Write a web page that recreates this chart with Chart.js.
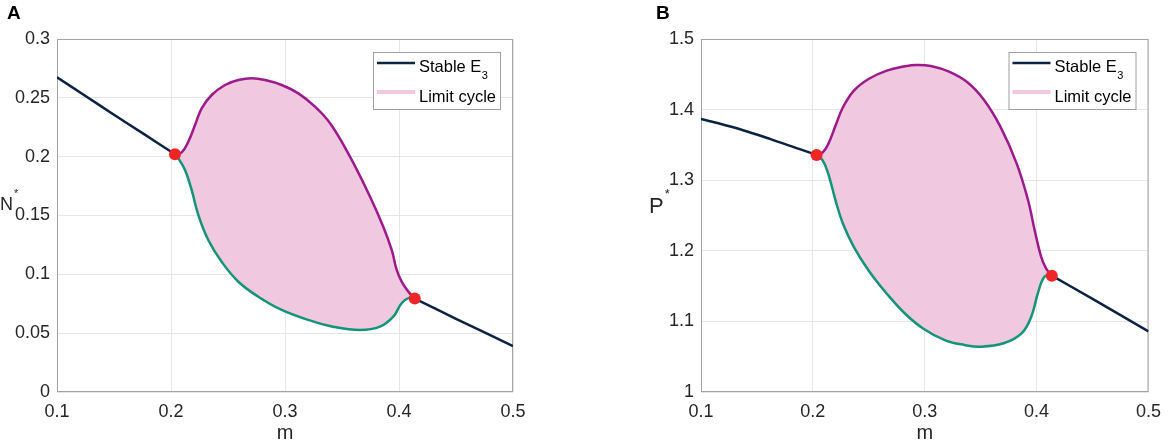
<!DOCTYPE html>
<html>
<head>
<meta charset="utf-8">
<script src="https://cdn.jsdelivr.net/npm/chart.js@4.4.1/dist/chart.umd.min.js"></script>
<style>
  html, body { margin: 0; padding: 0; background: #fff; }
  #wrap { position: relative; width: 1170px; height: 445px; }
  canvas { position: absolute; top: 0; }
  #chartA { left: 0; }
  #chartB { left: 585px; }
</style>
</head>
<body>
<div id="wrap">
  <canvas id="chartA" width="585" height="445"></canvas>
  <canvas id="chartB" width="585" height="445"></canvas>
</div>
<script>
// tick values, both panels share the m axis
var mTicks = [0.1, 0.2, 0.3, 0.4, 0.5];
var mTickLabels = ['0.1', '0.2', '0.3', '0.4', '0.5'];
var nTicks = [0, 0.05, 0.1, 0.15, 0.2, 0.25, 0.3];
var nTickLabels = ['0', '0.05', '0.1', '0.15', '0.2', '0.25', '0.3'];
var pTicks = [1, 1.1, 1.2, 1.3, 1.4, 1.5];
var pTickLabels = ['1', '1.1', '1.2', '1.3', '1.4', '1.5'];

// panel A : N* against m  ([m, N])
var stableLoA = [[0.1, 0.2674], [0.125, 0.2516], [0.15, 0.2356], [0.175, 0.2200], [0.2035, 0.2020]];
var stableHiA = [[0.4138, 0.0794], [0.45, 0.0622], [0.5, 0.0390]];
var cycleMaxA = [[0.2035, 0.2020], [0.2094, 0.2037], [0.2152, 0.2127], [0.2211, 0.2269], [0.2269, 0.2411],
  [0.2357, 0.2524], [0.2474, 0.2609], [0.2591, 0.2651], [0.2708, 0.2666], [0.2825, 0.2651], [0.2971, 0.2609],
  [0.3117, 0.2538], [0.3263, 0.2425], [0.3400, 0.2278], [0.3570, 0.2000], [0.3746, 0.1660], [0.3862, 0.1405],
  [0.3936, 0.1207], [0.3980, 0.1037], [0.4023, 0.0938], [0.4082, 0.0853], [0.4138, 0.0794]];
var cycleMinA = [[0.2035, 0.2020], [0.2064, 0.1986], [0.2123, 0.1887], [0.2181, 0.1717], [0.2240, 0.1504],
  [0.2327, 0.1292], [0.2444, 0.1107], [0.2591, 0.0937], [0.2766, 0.0810], [0.2971, 0.0697], [0.3205, 0.0612],
  [0.3420, 0.0555], [0.3658, 0.0527], [0.3833, 0.0555], [0.3950, 0.0640], [0.4023, 0.0754], [0.4096, 0.0804],
  [0.4138, 0.0794]];
var hopfA = [[0.2035, 0.2020], [0.4138, 0.0794]];

// panel B : P* against m
var stableLoB = [[0.1, 1.3868], [0.1288, 1.3750], [0.1615, 1.3585], [0.1876, 1.3443], [0.2033, 1.3358]];
var stableHiB = [[0.4136, 1.1648], [0.45, 1.1318], [0.5, 1.0858]];
var cycleMaxB = [[0.2033, 1.3358], [0.2089, 1.3396], [0.2138, 1.3514], [0.2203, 1.3774], [0.2269, 1.4033],
  [0.2367, 1.4269], [0.2498, 1.4434], [0.2661, 1.4552], [0.2825, 1.4613], [0.2923, 1.4632], [0.3054, 1.4618],
  [0.3217, 1.4538], [0.3381, 1.4387], [0.3530, 1.4136], [0.3676, 1.3758], [0.3821, 1.3239], [0.3923, 1.2720],
  [0.3982, 1.2295], [0.4040, 1.1917], [0.4084, 1.1752], [0.4136, 1.1648]];
var cycleMinB = [[0.2033, 1.3358], [0.2089, 1.3278], [0.2138, 1.3090], [0.2203, 1.2712], [0.2269, 1.2382],
  [0.2367, 1.2052], [0.2498, 1.1722], [0.2661, 1.1392], [0.2825, 1.1108], [0.2988, 1.0896], [0.3184, 1.0731],
  [0.3355, 1.0666], [0.3501, 1.0642], [0.3705, 1.0690], [0.3865, 1.0831], [0.3952, 1.1067], [0.4011, 1.1398],
  [0.4070, 1.1633], [0.4136, 1.1648]];
var hopfB = [[0.2033, 1.3358], [0.4136, 1.1648]];

var NAVY = '#0b2243', PURPLE = '#9c1a8c', TEAL = '#129479', PINK = '#f0c9e0', RED = '#f02525';
var FONT = '"Liberation Sans", Arial, sans-serif';

function pts(arr) {
  return arr.map(function(p) { return {x: p[0], y: p[1]}; });
}

// box round the axes, panel letter, upright y label, legend
var deco = {
  id: 'deco',
  beforeDatasetsDraw: function(chart) {
    var ca = chart.chartArea, ctx = chart.ctx;
    ctx.save();
    ctx.strokeStyle = '#a3a3a3';
    ctx.lineWidth = 1;
    ctx.strokeRect(ca.left + 0.5, ca.top + 0.5, ca.right - ca.left - 1, ca.bottom - ca.top - 1);
    ctx.restore();
  },
  afterDraw: function(chart, args, o) {
    var ca = chart.chartArea, ctx = chart.ctx;
    ctx.save();
    ctx.textBaseline = 'alphabetic';
    ctx.textAlign = 'left';
    ctx.fillStyle = '#000';
    ctx.font = 'bold 19px ' + FONT;
    ctx.fillText(o.letter, o.letterX, 19);

    ctx.fillStyle = '#262626';
    ctx.font = o.ylSize + 'px ' + FONT;
    ctx.fillText(o.yLabel, o.ylX, o.ylY);
    var w = ctx.measureText(o.yLabel).width;
    ctx.font = o.starSize + 'px ' + FONT;
    ctx.fillText('*', o.ylX + w + 1, o.ylY - o.starDy);

    var bw = 127, bh = 57;
    var bx = ca.right - 13 - bw, by = ca.top + 13;
    ctx.fillStyle = '#fff';
    ctx.fillRect(bx, by, bw, bh);
    ctx.strokeStyle = '#a0a0a0';
    ctx.lineWidth = 1;
    ctx.strokeRect(bx + 0.5, by + 0.5, bw, bh);

    ctx.lineCap = 'butt';
    ctx.strokeStyle = NAVY;
    ctx.lineWidth = 2.5;
    ctx.beginPath(); ctx.moveTo(bx + 4, by + 11); ctx.lineTo(bx + 42, by + 11); ctx.stroke();
    ctx.strokeStyle = PINK;
    ctx.lineWidth = 4;
    ctx.beginPath(); ctx.moveTo(bx + 4, by + 40); ctx.lineTo(bx + 42, by + 40); ctx.stroke();

    ctx.fillStyle = '#000';
    ctx.font = '16.5px ' + FONT;
    ctx.fillText('Stable E', bx + 46, by + 20);
    var sw = ctx.measureText('Stable E').width;
    ctx.font = '11px ' + FONT;
    ctx.fillText('3', bx + 46 + sw + 0.5, by + 27);
    ctx.font = '16.5px ' + FONT;
    ctx.fillText('Limit cycle', bx + 46, by + 50);
    ctx.restore();
  }
};

function makeChart(id, d) {
  var tickFont = {family: FONT, size: 18};
  return new Chart(document.getElementById(id), {
    type: 'scatter',
    data: {
      datasets: [
        {data: pts(d.hopf), showLine: false, pointRadius: 6, pointBackgroundColor: RED,
         pointBorderColor: RED, pointBorderWidth: 0, pointHoverRadius: 6},
        {data: pts(d.lo), showLine: true, borderColor: NAVY, borderWidth: 2.5, pointRadius: 0, tension: 0.3},
        {data: pts(d.hi), showLine: true, borderColor: NAVY, borderWidth: 2.5, pointRadius: 0, tension: 0.3},
        {data: pts(d.cmax), showLine: true, borderColor: PURPLE, borderWidth: 2.5, pointRadius: 0,
         tension: 0.4, fill: '+1', backgroundColor: PINK},
        {data: pts(d.cmin), showLine: true, borderColor: TEAL, borderWidth: 2.5, pointRadius: 0,
         tension: 0.4}
      ]
    },
    options: {
      responsive: false,
      animation: false,
      events: [],
      layout: {padding: d.pad},
      plugins: {
        legend: {display: false},
        tooltip: {enabled: false},
        filler: {drawTime: 'beforeDatasetsDraw'},
        deco: d.deco
      },
      scales: {
        x: {
          type: 'linear', min: 0.1, max: 0.5,
          afterBuildTicks: function(s) { s.ticks = mTicks.map(function(v) { return {value: v}; }); },
          afterFit: function(s) { s.height = 53; },
          grid: {color: '#e6e6e6', drawTicks: false},
          border: {display: false},
          ticks: {font: tickFont, color: '#262626', padding: 9, maxRotation: 0,
                  callback: function(v, i) { return mTickLabels[i]; }},
          title: {display: true, text: 'm', font: {family: FONT, size: 20}, color: '#262626',
                  padding: {top: 0, bottom: 0}}
        },
        y: {
          type: 'linear', min: d.ymin, max: d.ymax,
          afterBuildTicks: function(s) { s.ticks = d.yt.map(function(v) { return {value: v}; }); },
          afterFit: function(s) { s.width = d.yw; },
          grid: {color: '#e6e6e6', drawTicks: false},
          border: {display: false},
          ticks: {font: tickFont, color: '#262626', padding: 7,
                  callback: function(v, i) { return d.ytl[i]; }}
        }
      }
    },
    plugins: [deco]
  });
}

makeChart('chartA', {
  hopf: hopfA, lo: stableLoA, hi: stableHiA, cmax: cycleMaxA, cmin: cycleMinA,
  ymin: 0, ymax: 0.3, yt: nTicks, ytl: nTickLabels, yw: 57,
  pad: {left: 0, top: 39, right: 72, bottom: 0},
  deco: {letter: 'A', letterX: 7, yLabel: 'N', ylX: 0, ylY: 210, ylSize: 18, starSize: 11, starDy: 13}
});

makeChart('chartB', {
  hopf: hopfB, lo: stableLoB, hi: stableHiB, cmax: cycleMaxB, cmin: cycleMinB,
  ymin: 1, ymax: 1.5, yt: pTicks, ytl: pTickLabels, yw: 116,
  pad: {left: 0, top: 39, right: 12, bottom: 0},
  deco: {letter: 'B', letterX: 71, yLabel: 'P', ylX: 64, ylY: 213, ylSize: 22, starSize: 13, starDy: 15}
});
</script>
</body>
</html>
